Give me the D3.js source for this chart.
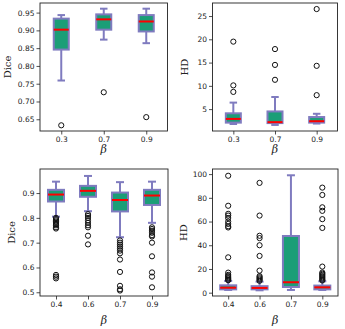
<!DOCTYPE html>
<html lang="en">
<head>
  <meta charset="UTF-8">
  <title>Dice / HD boxplots</title>
  <script src="https://d3js.org/d3.v7.min.js"></script>
  <style>
    body { margin: 0; background: #fff; }
    .tick text { font-family: "DejaVu Sans", sans-serif; font-size: 7.5px; fill: #222; }
    .tick line { stroke: #222; stroke-width: 0.8px; }
    .domain { display: none; }
    .lbl { font-family: "DejaVu Serif", "Liberation Serif", serif; font-size: 10px; fill: #222; }
  </style>
</head>
<body>
  <div id="chart"></div>
  <script>
    // top row: beta 0.3 / 0.7 / 0.9
    const topBetas = ["0.3", "0.7", "0.9"];
    const topDice = [
      { q1: 0.846, med: 0.902, q3: 0.933, lo: 0.759, hi: 0.943, out: [0.633] },
      { q1: 0.902, med: 0.931, q3: 0.945, lo: 0.874, hi: 0.961, out: [0.726] },
      { q1: 0.897, med: 0.925, q3: 0.943, lo: 0.864, hi: 0.961, out: [0.656] }
    ];
    const topHD = [
      { q1: 2.1, med: 2.9, q3: 4.1, lo: 1.8, hi: 6.4, out: [19.5, 10.1, 8.7] },
      { q1: 2.0, med: 2.2, q3: 4.5, lo: 1.6, hi: 7.6, out: [17.9, 14.5, 11.3] },
      { q1: 2.1, med: 2.4, q3: 3.3, lo: 1.9, hi: 4.0, out: [26.5, 14.3, 8.0] }
    ];

    // bottom row: beta 0.4 / 0.6 / 0.7 / 0.9
    const bottomBetas = ["0.4", "0.6", "0.7", "0.9"];
    const bottomDice = [
      { q1: 0.866, med: 0.894, q3: 0.913, lo: 0.805, hi: 0.946,
        out: [0.800, 0.795, 0.790, 0.785, 0.780, 0.775, 0.770, 0.762, 0.757, 0.570, 0.563, 0.556] },
      { q1: 0.885, med: 0.909, q3: 0.929, lo: 0.827, hi: 0.969,
        out: [0.815, 0.808, 0.800, 0.790, 0.780, 0.770, 0.762, 0.728, 0.693] },
      { q1: 0.826, med: 0.872, q3: 0.902, lo: 0.722, hi: 0.944,
        out: [0.709, 0.700, 0.692, 0.684, 0.676, 0.668, 0.657, 0.632, 0.582, 0.526, 0.512, 0.507] },
      { q1: 0.852, med: 0.890, q3: 0.913, lo: 0.780, hi: 0.946,
        out: [0.762, 0.755, 0.748, 0.740, 0.730, 0.725, 0.700, 0.645, 0.580, 0.563, 0.520] }
    ];
    const bottomHD = [
      { q1: 2.8, med: 4.2, q3: 6.2, lo: 2.3, hi: 9.9,
        out: [98.6, 73.3, 66.5, 65, 63, 60, 58, 56, 55, 29.8, 16.9, 15, 14, 13, 12, 11, 10.5] },
      { q1: 2.8, med: 4.0, q3: 5.5, lo: 2.0, hi: 9.3,
        out: [92.6, 65, 48, 46, 40, 31, 18.6, 14, 13, 12, 11, 10] },
      { q1: 4.8, med: 8.8, q3: 47.8, lo: 2.3, hi: 99, out: [] },
      { q1: 2.8, med: 4.5, q3: 6.0, lo: 2.3, hi: 9.6,
        out: [88.6, 82.4, 72, 69, 62, 54.6, 22, 17, 16, 15, 14, 13, 12, 11, 10.3] }
    ];

    const panels = [
      { x0: 40, x1: 167.5, y0: 3, y1: 131, cats: topBetas, data: topDice, label: "Dice",
        domain: [0.617, 0.977], ticks: [0.65, 0.7, 0.75, 0.8, 0.85, 0.9, 0.95], fmt: ".2f", boxW: 15, labX: 7, betaY: 149 },
      { x0: 212.5, x1: 337.5, y0: 3, y1: 131, cats: topBetas, data: topHD, label: "HD",
        domain: [0.3, 27.8], ticks: [5, 10, 15, 20, 25], fmt: "d", boxW: 15, labX: 184, betaY: 149 },
      { x0: 40, x1: 168, y0: 169, y1: 296, cats: bottomBetas, data: bottomDice, label: "Dice",
        domain: [0.485, 0.997], ticks: [0.5, 0.6, 0.7, 0.8, 0.9], fmt: ".1f", boxW: 16, labX: 11, betaY: 320 },
      { x0: 212.5, x1: 338, y0: 169, y1: 296, cats: bottomBetas, data: bottomHD, label: "HD",
        domain: [-2.8, 104.3], ticks: [0, 20, 40, 60, 80, 100], fmt: "d", boxW: 16, labX: 183, betaY: 320 }
    ];

    const svg = d3.select("#chart").append("svg")
      .attr("width", 345)
      .attr("height", 329);

    const edge = "#7f7bbf";

    panels.forEach(p => {
      const x = d3.scalePoint().domain(p.cats).range([p.x0, p.x1]).padding(0.5);
      const y = d3.scaleLinear().domain(p.domain).range([p.y1, p.y0]);
      const g = svg.append("g");

      g.append("g")
        .attr("transform", `translate(${p.x0},0)`)
        .call(d3.axisLeft(y).tickValues(p.ticks).tickFormat(d3.format(p.fmt)).tickSize(3.5).tickPadding(2));
      g.append("g")
        .attr("transform", `translate(0,${p.y1})`)
        .call(d3.axisBottom(x).tickSize(3.5).tickPadding(2.5));

      p.data.forEach((d, i) => {
        const cx = x(p.cats[i]);
        const w = p.boxW, cap = w / 2;
        // whiskers
        g.append("line").attr("x1", cx).attr("x2", cx).attr("y1", y(d.q3)).attr("y2", y(d.hi))
          .attr("stroke", edge).attr("stroke-width", 2);
        g.append("line").attr("x1", cx).attr("x2", cx).attr("y1", y(d.q1)).attr("y2", y(d.lo))
          .attr("stroke", edge).attr("stroke-width", 2);
        [d.hi, d.lo].forEach(v => {
          g.append("line").attr("x1", cx - cap / 2).attr("x2", cx + cap / 2).attr("y1", y(v)).attr("y2", y(v))
            .attr("stroke", edge).attr("stroke-width", 2);
        });
        // box
        g.append("rect")
          .attr("x", cx - w / 2).attr("width", w)
          .attr("y", y(d.q3)).attr("height", Math.max(0.5, y(d.q1) - y(d.q3)))
          .attr("fill", "#1b9e77").attr("stroke", edge).attr("stroke-width", 2);
        g.append("line").attr("x1", cx - w / 2).attr("x2", cx + w / 2).attr("y1", y(d.med)).attr("y2", y(d.med))
          .attr("stroke", "#ff0000").attr("stroke-width", 2);
        // fliers
        g.selectAll(null).data(d.out).enter().append("circle")
          .attr("cx", cx).attr("cy", v => y(v)).attr("r", 2.6)
          .attr("fill", "none").attr("stroke", "#111").attr("stroke-width", 1);
      });

      // frame
      g.append("rect")
        .attr("x", p.x0).attr("y", p.y0)
        .attr("width", p.x1 - p.x0).attr("height", p.y1 - p.y0)
        .attr("fill", "none").attr("stroke", "#222").attr("stroke-width", 0.9);

      g.append("text").attr("class", "lbl")
        .attr("transform", `translate(${p.labX},${(p.y0 + p.y1) / 2}) rotate(-90)`)
        .attr("text-anchor", "middle").attr("dy", "0.35em")
        .text(p.label);
      g.append("text").attr("class", "lbl")
        .attr("x", (p.x0 + p.x1) / 2).attr("y", p.betaY)
        .attr("text-anchor", "middle").attr("dy", "0.35em")
        .style("font-style", "italic").style("font-size", "11px")
        .text("β");
    });
  </script>
</body>
</html>
